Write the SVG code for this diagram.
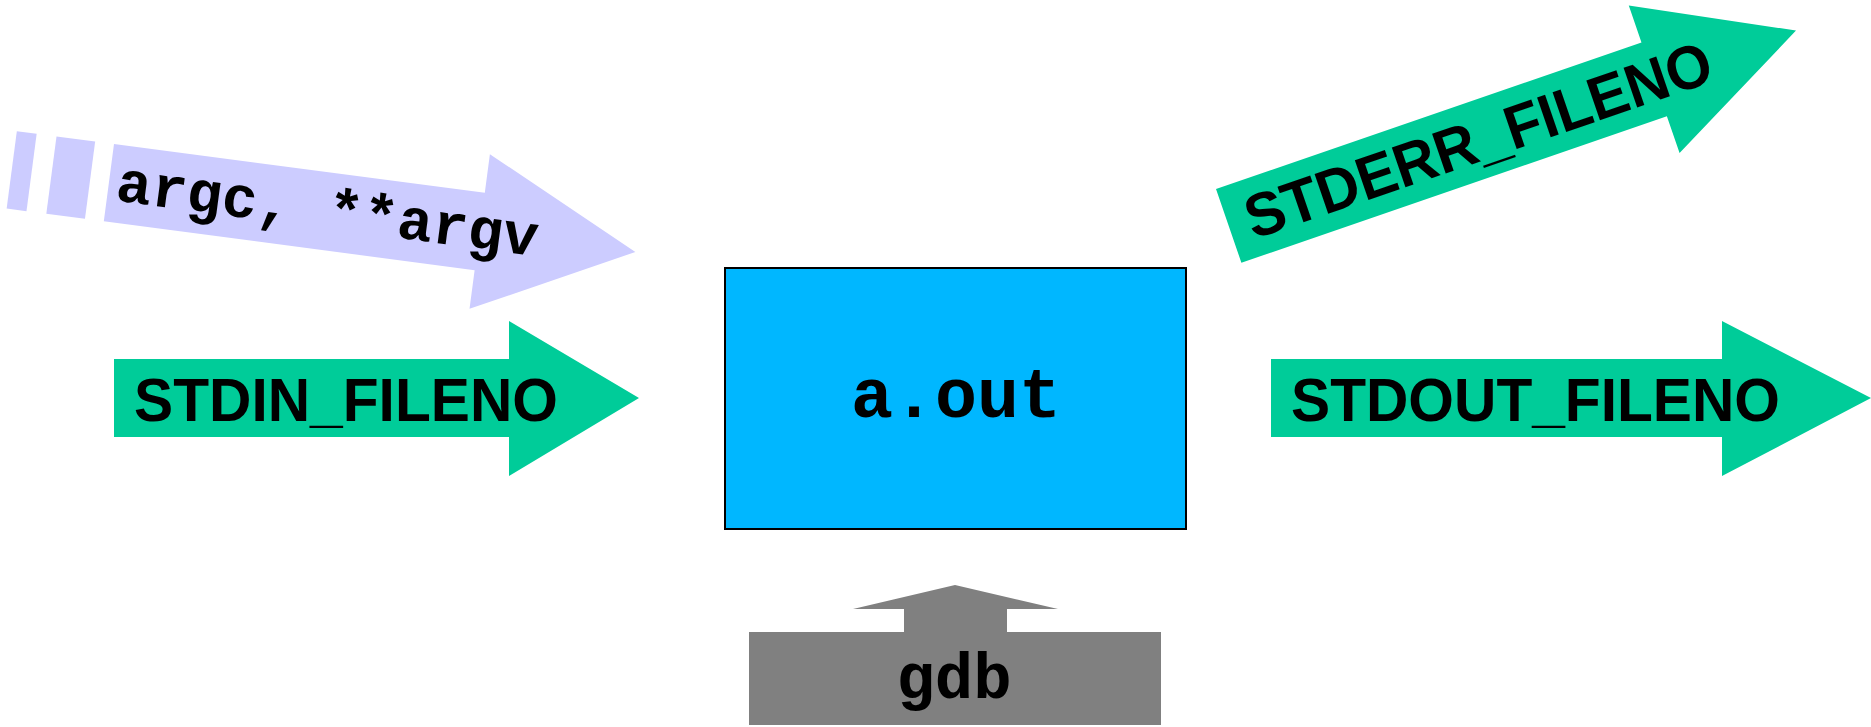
<svg xmlns="http://www.w3.org/2000/svg" width="1871" height="727" viewBox="0 0 1871 727">
  <style>
    .green { fill: #00cc99; }
    .purple { fill: #ccccff; }
    .sans { font-family: "Liberation Sans", Arial, sans-serif; font-weight: bold; fill: #000; }
    .mono { font-family: "Liberation Mono", "Courier New", monospace; font-weight: bold; fill: #000; }
  </style>
  <rect width="1871" height="727" fill="#ffffff"/>
  <g id="connectors">
    <g id="arrow-argv" transform="translate(114,144) rotate(7.5)">
      <polygon class="purple" points="-98,0 -78,0 -78,78 -98,78"/>
      <polygon class="purple" points="-58,0 -19,0 -19,78 -58,78"/>
      <polygon class="purple" points="0,0 374,0 374,-39 531,39 374,117 374,78 0,78"/>
      <text class="mono" x="8" y="56" font-size="59">argc, **argv</text>
    </g>
    <g id="arrow-stdin">
      <polygon class="green" points="114,359 509,359 509,321 639,398 509,476 509,437 114,437"/>
      <text class="sans" x="134" y="421" font-size="61" textLength="424" lengthAdjust="spacingAndGlyphs">STDIN_FILENO</text>
    </g>
    <g id="arrow-stdout">
      <polygon class="green" points="1271,359 1722,359 1722,321 1871,398 1722,476 1722,437 1271,437"/>
      <text class="sans" x="1291" y="421" font-size="61" textLength="489" lengthAdjust="spacingAndGlyphs">STDOUT_FILENO</text>
    </g>
    <g id="arrow-stderr" transform="translate(1216,189) rotate(-19)">
      <polygon class="green" points="0,0 450,0 450,-39 600,39 450,117 450,78 0,78"/>
      <text class="sans" x="19" y="60" font-size="61" textLength="490" lengthAdjust="spacingAndGlyphs">STDERR_FILENO</text>
    </g>
  </g>
  <g id="node-aout">
    <rect x="725" y="268" width="461" height="261" fill="#00b7ff" stroke="#000" stroke-width="2"/>
    <text class="mono" x="956" y="417" font-size="70" text-anchor="middle">a.out</text>
  </g>
  <g id="node-gdb">
    <polygon fill="#808080" points="749,632 904,632 904,609 853,609 955,585 1058,609 1007,609 1007,632 1161,632 1161,725 749,725"/>
    <text class="mono" x="954" y="698" font-size="64" text-anchor="middle">gdb</text>
  </g>
</svg>
